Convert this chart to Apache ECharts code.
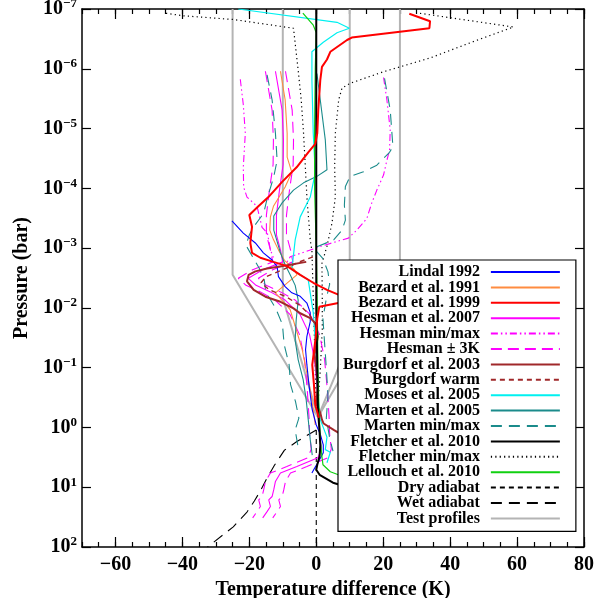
<!DOCTYPE html>
<html>
<head>
<meta charset="utf-8">
<script src="https://cdn.jsdelivr.net/npm/echarts@6/dist/echarts.min.js"></script>
<style>html,body{margin:0;padding:0;background:#fff}#c{width:605px;height:598px}</style>
</head>
<body>
<div id="c"></div>
<script>
// ---- data: [temperature difference (K), pressure (bar)] ----
const xTickLabels = [-60, -40, -20, 0, 20, 40, 60, 80];
const legendNames = ['Lindal 1992','Bezard et al. 1991','Bezard et al. 1999','Hesman et al. 2007','Hesman min/max','Hesman ± 3K','Burgdorf et al. 2003','Burgdorf warm','Moses et al. 2005','Marten et al. 2005','Marten min/max','Fletcher et al. 2010','Fletcher min/max','Lellouch et al. 2010','Dry adiabat','Wet adiabat','Test profiles'];

const lindal1992 = [[-25.2,3.5e-4],[-21.8,5.6e-4],[-18.2,8.2e-4],[-15.8,1.2e-3],[-13.2,1.58e-3],[-11.7,2.04e-3],[-11.3,3e-3],[-9.3,4.4e-3],[-7.3,5.6e-3],[-4.8,6.4e-3],[-2.8,8.3e-3],[-1.8,0.012],[-1.8,0.017],[-2.8,0.03],[-3.2,0.05],[-2.8,0.09],[-2.2,0.19],[-1.2,0.51],[0,0.91],[1.2,1.3],[2.1,1.95],[2.1,2.65],[0.6,3.8],[-0.3,4.6],[-1.3,5.8]];
const bezard1991 = [[-10.7,1.1e-6],[-9.3,3.3e-6],[-8.7,1.2e-5],[-8.7,3e-5],[-7.3,5.4e-5],[-9.3,9.5e-5],[-12.8,2e-4],[-13.7,3e-4],[-13.9,5e-4],[-12.8,7.2e-4],[-11.3,1.07e-3],[-9.5,1.6e-3],[-6.5,2.3e-3],[-5.8,2.8e-3],[-12.2,5.6e-3],[-7.8,0.0107],[-6,0.023],[-4.2,0.05],[-3,0.11],[-1.8,0.23],[-0.9,0.51],[-0.3,0.91]];
const bezard1999 = [[27.8,1.2e-7],[34,1.6e-7],[33.8,2.1e-7],[25,2.4e-7],[10.6,3e-7],[9.2,3.3e-7],[4.2,5.2e-7],[3.2,7e-7],[1.7,9.3e-7],[1.2,1.55e-6],[0.6,4.9e-6],[0.3,1.2e-5],[-0.3,1.8e-5],[-2.4,2.5e-5],[-5.8,4.4e-5],[-10.2,7.8e-5],[-14.3,1.4e-4],[-17.3,2e-4],[-20,2.8e-4],[-19.2,4.4e-4],[-19.7,8.2e-4],[-19.2,1.2e-3],[-16.7,1.45e-3],[-12.8,1.7e-3],[-8.7,2e-3],[-4.8,2.8e-3],[-0.9,3.8e-3],[3.2,5e-3],[6.6,6e-3],[8.7,7e-3],[6.6,8.3e-3],[0.9,9.6e-3],[0.3,0.015],[-0.2,0.032],[-1.2,0.09],[-0.7,0.19],[-0.3,0.42],[0.8,0.69]];
const hesman2007 = [[-12.2,1.1e-6],[-10.2,4.9e-6],[-9.8,1.55e-5],[-9.9,4e-5],[-11,1.07e-4],[-11.9,2.8e-4],[-11.9,6e-4],[-10.7,1.07e-3],[-10,1.7e-3],[-16,2.3e-3],[-20.3,3.2e-3],[-18,4.2e-3],[-13.7,5.4e-3],[-9.3,7.4e-3],[-4.8,0.013],[-2,0.028],[-0.5,0.074],[0.3,0.23],[0.8,0.62],[1,1.3],[1.5,2.3],[0.5,3.2],[-5.8,4.5],[-10.7,5.8],[-12.2,8],[-12.7,11],[-13.2,14.3],[-14.2,16.3],[-13.7,21],[-14.7,25.6],[-16,32.5]];
const hesmanMinus3 = [[-15.2,1.1e-6],[-13.2,4.9e-6],[-12.8,1.55e-5],[-12.9,4e-5],[-14,1.07e-4],[-14.9,2.8e-4],[-14.9,6e-4],[-13.7,1.07e-3],[-13,1.7e-3],[-19,2.3e-3],[-23.3,3.2e-3],[-21,4.2e-3],[-16.7,5.4e-3],[-12.3,7.4e-3],[-7.8,0.013],[-5,0.028],[-3.5,0.074],[-2.7,0.23],[-2.2,0.62],[-2,1.3],[-1.5,2.3],[-2.5,3.2],[-8.8,4.5],[-13.7,5.8],[-15.2,8],[-15.7,11],[-16.2,14.3],[-17.2,16.3],[-16.7,21],[-17.7,25.6],[-19,32.5]];
const hesmanPlus3 = [[-9.2,1.1e-6],[-7.2,4.9e-6],[-6.8,1.55e-5],[-6.9,4e-5],[-8,1.07e-4],[-8.9,2.8e-4],[-8.9,6e-4],[-7.7,1.07e-3],[-7,1.7e-3],[-13,2.3e-3],[-17.3,3.2e-3],[-15,4.2e-3],[-10.7,5.4e-3],[-6.3,7.4e-3],[-1.8,0.013],[1,0.028],[2.5,0.074],[3.3,0.23],[3.8,0.62],[4,1.3],[4.5,2.3],[3.5,3.2],[-2.8,4.5],[-7.7,5.8],[-9.2,8],[-9.7,11],[-10.2,14.3],[-11.2,16.3],[-10.7,21],[-11.7,25.6],[-13,32.5]];
const hesmanMin = [[-22.7,1.5e-6],[-21.8,4e-6],[-21.2,1.2e-5],[-21.8,4.4e-5],[-21.7,9.6e-5],[-20.7,1.4e-4],[-17.7,2e-4],[-16.2,4.5e-4],[-14.6,5.6e-4],[-13.7,1.07e-3],[-12.5,1.6e-3]];
const hesmanMax = [[20.1,1.4e-6],[21.1,3.3e-6],[22.1,1.05e-5],[21.9,2.3e-5],[21.1,3.4e-5],[20.1,6e-5],[18.1,1.07e-4],[16.6,1.75e-4],[15.1,3.2e-4],[12.1,5e-4],[9.6,6.8e-4],[4.7,8.2e-4],[1.2,9.4e-4],[-7.8,1.4e-3],[-8.7,1.7e-3]];
const burgdorf2003 = [[-3,1.7e-3],[-10,2e-3],[-14.7,2.2e-3],[-18.2,2.45e-3],[-20.2,2.8e-3],[-20.7,3.6e-3],[-18.7,5e-3],[-15.2,6.5e-3],[-10.7,7.9e-3],[-6.8,0.0102],[-4.8,0.0123],[-1.8,0.0148],[-0.3,0.018],[0.5,0.03],[-0.5,0.06],[0,0.1],[0.5,0.2],[0,0.4],[1.2,0.57],[1.7,0.74],[2.2,0.86],[5.2,1.1],[6.7,1.23],[12,1.6],[20,2.2]];
const burgdorfWarm = [[-1,1.4e-3],[-5,1.7e-3],[-10,2.3e-3],[-15,3e-3],[-16.5,3.8e-3],[-14,5e-3],[-9,6.5e-3],[-5,9e-3],[-2,0.013],[0,0.02],[0.5,0.03]];
const moses2005 = [[-23.3,1e-7],[6.2,1.67e-7],[9.9,2.1e-7],[6.2,2.5e-7],[2.1,3.6e-7],[-1.3,5.2e-7],[-1.3,1.55e-6],[-0.9,1.2e-5],[-0.3,5.5e-5],[-1.8,1.4e-4],[-4.8,3e-4],[-6.3,7.3e-4],[-7.3,2.3e-3],[-4.8,2.8e-3],[-2.4,3.4e-3],[-1.8,5.6e-3],[-0.9,0.012],[-0.3,0.035],[0,0.11],[0.6,0.35],[1.2,0.74],[3.2,1.45],[2.7,2.35],[4.2,2.6],[3.2,3.9]];
const marten2005 = [[0.2,1.2e-6],[2.7,1.55e-5],[3.2,4.9e-5],[0.2,6.3e-5],[-3.8,8.1e-5],[-6.8,1.07e-4],[-10.2,1.75e-4],[-12.7,2.9e-4],[-12.7,5e-4],[-10.7,1.2e-3],[-9.3,1.9e-3],[-7.8,2.8e-3],[-6.3,4.2e-3],[-5.4,7.4e-3],[-6,0.016],[-6.3,0.035],[-5.4,0.074],[-3.9,0.16],[-3,0.35],[-2.4,0.74],[-1.8,1.6],[-1.2,2.9]];
const martenMin = [[-14.7,1.26e-6],[-13.2,3.3e-6],[-12.2,1.2e-5],[-11.7,3.4e-5],[-12.7,6.4e-5],[-14.7,1.5e-4],[-15.7,2.6e-4],[-18.7,4.4e-4],[-20,6e-4],[-21,9e-4],[-19,1.4e-3],[-17,2.2e-3],[-15.5,3.5e-3],[-15.1,5.4e-3],[-12.1,0.0102],[-10.1,0.019],[-9.6,0.041],[-8.1,0.09],[-7.7,0.19],[-6.2,0.37],[-5.2,0.7],[-6.3,1.1],[-5.3,2.35]];
const martenMax = [[20.4,1.45e-6],[22.1,4.9e-6],[22.9,2e-5],[21.9,2.5e-5],[18.1,4.1e-5],[14.1,5.3e-5],[10.1,6.3e-5],[8.7,9.3e-5],[8.4,1.9e-4],[8.7,3.4e-4],[7.7,5e-4],[5.2,7.3e-4],[-0.8,1e-3],[2,1.5e-3],[3.5,2.5e-3],[4,4e-3],[3,7e-3],[2,0.015],[2.5,0.04],[3,0.1],[3.5,0.3],[3,0.7],[4,1.5],[5,2.5]];
const fletcher2010 = [[0,1e-7],[0,1e-4],[0,1e-2],[0.3,0.1],[0.5,0.5],[1,1.2],[1.2,2],[1,3],[0.3,4.2],[0,5.1],[1,6.2],[5,8.4],[7,9.1],[15,11],[30,14]];
const fletcherMin = [[-44.9,1.18e-7],[-39.6,1.3e-7],[-24.7,1.5e-7],[-6.8,2.1e-7],[-5.3,1.2e-6],[-4.5,3.3e-6],[-3.8,1.2e-5],[-3.3,4e-5],[-2.8,1.4e-4],[-1.8,7.3e-4],[-1.3,1.1e-3],[-0.8,0.01],[-0.3,0.1],[0,0.5]];
const fletcherMax = [[31,1.18e-7],[58.9,2e-7],[47,3.5e-7],[34,6.6e-7],[20.1,1.12e-6],[10.1,1.75e-6],[7.7,2.1e-6],[6.7,3.3e-6],[5.7,1.2e-5],[5.5,4.3e-5],[5.7,1.4e-4],[4.7,3.8e-4],[3.2,9.3e-4],[1.7,1.8e-3],[1.8,7.4e-3],[1.8,0.023],[1.2,0.11],[0.6,0.35]];
const lellouch2010 = [[-4,1.17e-7],[-0.9,1.86e-7],[0,2.5e-7],[-0.3,1e-6],[-0.5,1e-5],[-0.5,1e-4],[0,1e-3],[0.3,1e-2],[0.5,0.1],[0.8,0.5],[1.2,1.6],[1.7,3.1],[2,4.2],[4.2,5.5],[6.6,6.2],[15,7.5],[25,9]];
const dryAdiabat = [[0,1.1],[0,100]];
const wetAdiabat = [[0,1.1],[-5.8,1.72],[-9.5,2.4],[-12.5,4.3],[-14.7,7],[-16.5,11],[-18.5,17],[-20.7,26],[-24.8,46],[-32.5,100]];
const testProfileA = [[-25,1e-7],[-25,2.8e-3],[0.5,0.67]];
const testProfileB = [[-10,1e-7],[-10,6.8e-3],[0.5,0.67]];
const testProfileC = [[10,1e-7],[10,0.035],[0.5,0.67]];
const testProfileD = [[25,1e-7],[25,3e-3],[0.5,0.67]];

// ---- chart ----
const FONT = 'Liberation Serif';
function line(name, data, color, width, type, z) {
  return {type:'line', name:name, data:data, symbol:'none', showSymbol:false,
    lineStyle:{color:color, width:width, type:type||'solid'}, itemStyle:{color:color},
    z:z||3, animation:false, clip:true, silent:true, xAxisIndex:0, yAxisIndex:0};
}
const gray='#b4b4b4', mag='#ff00ff', teal='#1b8b8b', brn='#a0282a';
const series = [
  line('Test profiles', testProfileA, gray, 2, 'solid', 2),
  line('Test profiles', testProfileB, gray, 2, 'solid', 2),
  line('Test profiles', testProfileC, gray, 2, 'solid', 2),
  line('Test profiles', testProfileD, gray, 2, 'solid', 2),
  line('Dry adiabat', dryAdiabat, '#000', 1.1, [5,4]),
  line('Wet adiabat', wetAdiabat, '#000', 1.1, [11,7]),
  line('Fletcher min/max', fletcherMin, '#000', 1.2, [1.2,3.2]),
  line('Fletcher min/max', fletcherMax, '#000', 1.2, [1.2,3.2]),
  line('Hesman min/max', hesmanMin, mag, 1.1, [7,3,1.5,3,1.5,3]),
  line('Hesman min/max', hesmanMax, mag, 1.1, [7,3,1.5,3,1.5,3]),
  line('Hesman ± 3K', hesmanMinus3, mag, 1.1, [11,6]),
  line('Hesman ± 3K', hesmanPlus3, mag, 1.1, [11,6]),
  line('Marten min/max', martenMin, teal, 1.1, [11,7]),
  line('Marten min/max', martenMax, teal, 1.1, [11,7]),
  line('Hesman et al. 2007', hesman2007, mag, 1.1),
  line('Bezard et al. 1991', bezard1991, '#ff8c40', 1.1),
  line('Marten et al. 2005', marten2005, teal, 1.1),
  line('Moses et al. 2005', moses2005, '#00f0f0', 1.2),
  line('Lindal 1992', lindal1992, '#0000ff', 1.1),
  line('Burgdorf warm', burgdorfWarm, brn, 1.4, [5,4]),
  line('Burgdorf et al. 2003', burgdorf2003, brn, 2),
  line('Lellouch et al. 2010', lellouch2010, '#10d010', 1.2),
  line('Fletcher et al. 2010', fletcher2010, '#000', 2),
  line('Bezard et al. 1999', bezard1999, '#ff0000', 2)
];

const xCommon = {type:'value', min:-70, max:80, interval:5, splitLine:{show:false}};
const axLine = {show:true, onZero:false, lineStyle:{color:'#000', width:1.5}};
const noLine = {show:false, onZero:false};
const option = {
  animation:false,
  backgroundColor:'#fff',
  grid:{left:82, right:21, top:9, bottom:51, containLabel:false, outerBoundsMode:'none'},
  xAxis:[
    Object.assign({}, xCommon, {position:'bottom', name:'Temperature difference (K)', nameLocation:'middle', nameGap:30,
      nameTextStyle:{fontFamily:FONT, fontWeight:'bold', fontSize:20, color:'#000'},
      axisLine:axLine, axisTick:{show:true, inside:true, length:5, lineStyle:{color:'#000', width:1.2}},
      axisLabel:{show:true, customValues:xTickLabels, margin:8, fontFamily:FONT, fontWeight:'bold', fontSize:20, color:'#000',
        formatter:function(v){return v<0 ? '\u2212'+(-v) : ''+v;}}}),
    Object.assign({}, xCommon, {position:'bottom', axisLine:noLine,
      axisTick:{show:true, inside:true, length:10, customValues:xTickLabels, lineStyle:{color:'#000', width:1.2}},
      axisLabel:{show:false}}),
    Object.assign({}, xCommon, {position:'top', axisLine:axLine,
      axisTick:{show:true, inside:true, length:5, lineStyle:{color:'#000', width:1.2}}, axisLabel:{show:false}}),
    Object.assign({}, xCommon, {position:'top', axisLine:noLine,
      axisTick:{show:true, inside:true, length:10, customValues:xTickLabels, lineStyle:{color:'#000', width:1.2}},
      axisLabel:{show:false}})
  ],
  yAxis:[
    {type:'log', logBase:10, min:1e-7, max:100, inverse:true, position:'left', splitLine:{show:false},
      name:'Pressure (bar)', nameLocation:'middle', nameGap:38, nameRotate:90,
      nameTextStyle:{fontFamily:FONT, fontWeight:'bold', fontSize:20, color:'#000'},
      axisLine:axLine, axisTick:{show:true, inside:true, length:9, lineStyle:{color:'#000', width:1.2}},
      minorTick:{show:false},
      axisLabel:{show:true, margin:5, color:'#000',
        formatter:function(v){const e=Math.round(Math.log10(v)); return '{b|10}{s|'+(e<0?'\u2212'+(-e):''+e)+'}';},
        rich:{b:{fontFamily:FONT, fontWeight:'bold', fontSize:20, color:'#000'},
              s:{fontFamily:FONT, fontWeight:'bold', fontSize:13, color:'#000', padding:[0,0,10,0]}}}},
    {type:'log', logBase:10, min:1e-7, max:100, inverse:true, position:'right', splitLine:{show:false},
      axisLine:axLine, axisTick:{show:true, inside:true, length:9, lineStyle:{color:'#000', width:1.2}},
      axisLabel:{show:false}}
  ],
  legend:{data:legendNames, orient:'vertical', align:'right', left:338, top:260,
    padding:[4,15,5,5], backgroundColor:'#fff', borderColor:'#000', borderWidth:1.2, borderRadius:0,
    itemWidth:69, itemHeight:14, itemGap:-0.6, selectedMode:false,
    itemStyle:{opacity:0},
    textStyle:{fontFamily:FONT, fontWeight:'bold', fontSize:16, lineHeight:14, color:'#000', padding:[0,6,0,0]}},
  series:series
};
const chart = echarts.init(document.getElementById('c'), null, {renderer:'canvas'});
chart.setOption(option);
</script>
</body>
</html>
